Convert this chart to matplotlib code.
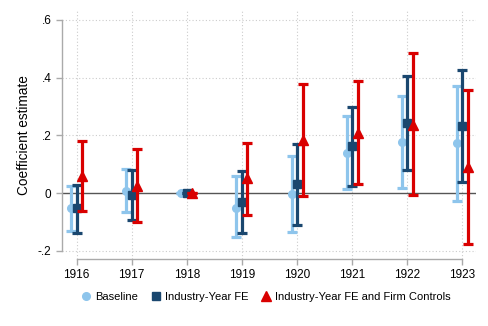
import numpy as np
import matplotlib
matplotlib.use("Agg")
import matplotlib.pyplot as plt

plt.rcParams["font.family"] = ["Liberation Sans", "DejaVu Sans"]

years = [1916, 1917, 1918, 1919, 1920, 1921, 1922, 1923]

# Baseline
base_est = [-0.052, 0.009, 0.0, -0.050, -0.002, 0.140, 0.177, 0.173]
base_lo = [-0.132, -0.066, 0.0, -0.152, -0.134, 0.014, 0.017, -0.027]
base_hi = [0.025, 0.085, 0.0, 0.058, 0.129, 0.269, 0.336, 0.372]

# Industry-Year FE
fe_est = [-0.052, -0.006, 0.0, -0.029, 0.031, 0.163, 0.243, 0.234]
fe_lo = [-0.136, -0.092, 0.0, -0.136, -0.109, 0.025, 0.080, 0.040]
fe_hi = [0.029, 0.080, 0.0, 0.076, 0.169, 0.300, 0.405, 0.428]

# Industry-Year FE and Firm Controls
ctl_est = [0.058, 0.025, 0.0, 0.052, 0.183, 0.209, 0.238, 0.092]
ctl_lo = [-0.063, -0.101, 0.0, -0.077, -0.011, 0.032, -0.006, -0.176]
ctl_hi = [0.180, 0.154, 0.0, 0.175, 0.378, 0.387, 0.484, 0.358]

series = [
    ("Baseline", base_est, base_lo, base_hi, -0.1, "#8EC5EC", "o", 5.5),
    ("Industry-Year FE", fe_est, fe_lo, fe_hi, 0.0, "#1A476F", "s", 5.5),
    ("Industry-Year FE and Firm Controls", ctl_est, ctl_lo, ctl_hi, 0.1, "#D90000", "^", 7),
]

fig = plt.figure(figsize=(4.88, 3.26), dpi=100)
ax = fig.add_axes([62 / 488, 1 - 259 / 326, 414 / 488, 248 / 326])

ax.set_xlim(1915.737, 1923.245)
ax.set_ylim(-0.2277, 0.631)

for yr in years:
    ax.axvline(yr, color="#cccccc", lw=0.8, ls=(0, (1, 2)), zorder=0)
for yv in [-0.2, 0.2, 0.4, 0.6]:
    ax.axhline(yv, color="#cccccc", lw=0.8, ls=(0, (1, 2)), zorder=0)
ax.axhline(0, color="#555555", lw=1.0, zorder=1)

handles = []
for i, (lab, est, lo, hi, off, col, mk, ms) in enumerate(series):
    x = np.array(years) + off
    est = np.array(est)
    err = np.vstack([est - np.array(lo), np.array(hi) - est])
    ax.errorbar(x, est, yerr=err, fmt="none", ecolor=col, elinewidth=2.3,
                capsize=3.3, capthick=2.3, zorder=2 + i)
    h, = ax.plot(x, est, ls="none", marker=mk, ms=ms, color=col,
                 markeredgecolor=col, zorder=2.5 + i, label=lab)
    handles.append(h)

for s in ["top", "right"]:
    ax.spines[s].set_visible(False)
ax.spines["left"].set_bounds(-0.2, 0.6)
ax.spines["bottom"].set_bounds(1916, 1923)
for s in ["left", "bottom"]:
    ax.spines[s].set_color("#aaaaaa")
    ax.spines[s].set_linewidth(1.0)

ax.set_xticks(years)
ax.set_xticklabels([str(y) for y in years])
ax.set_yticks([-0.2, 0, 0.2, 0.4, 0.6])
ax.set_yticklabels(["-.2", "0", ".2", ".4", ".6"])
ax.tick_params(axis="both", colors="#aaaaaa", labelcolor="black", labelsize=8.5,
               length=4, width=1)
ax.tick_params(axis="x", pad=3)
ax.set_ylabel("Coefficient estimate", fontsize=9.8, labelpad=5)

fig.legend(handles=handles, loc="center", bbox_to_anchor=(266 / 488, 1 - 297 / 326),
           ncol=3, frameon=False, fontsize=8, handlelength=0.8,
           handletextpad=0.4, columnspacing=1.2, markerscale=1.0)

fig.savefig("out.png", dpi=100)
